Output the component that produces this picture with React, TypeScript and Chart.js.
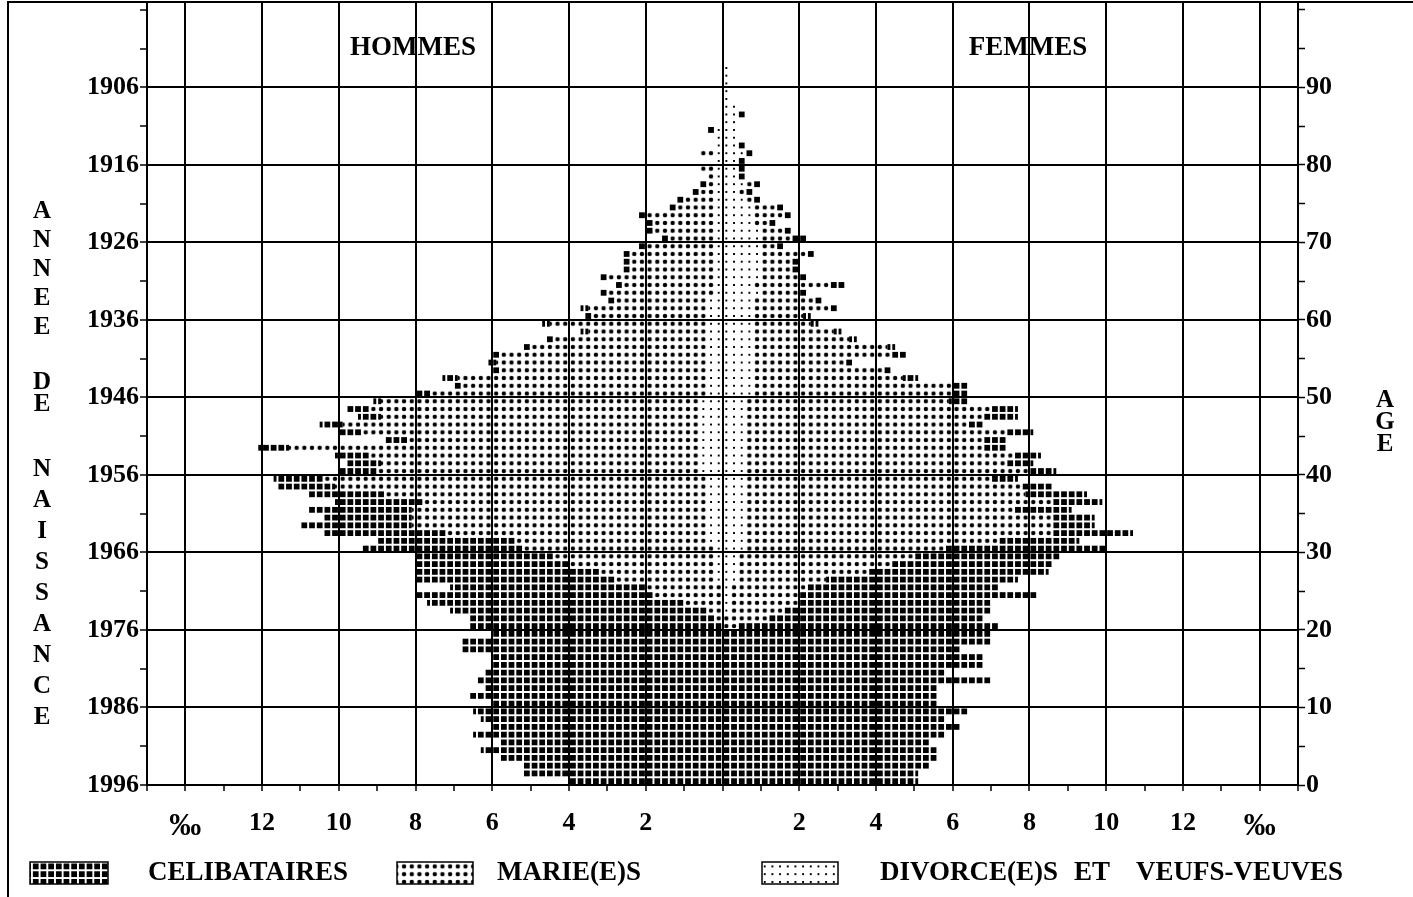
import React, { useEffect, useRef } from 'react';
import { Chart, registerables } from 'chart.js';

Chart.register(...registerables);

// Ages (years completed) – one bar row per age
const AGES = [
  0, 1, 2, 3, 4, 5, 6, 7, 8, 9,
  10, 11, 12, 13, 14, 15, 16, 17, 18, 19,
  20, 21, 22, 23, 24, 25, 26, 27, 28, 29,
  30, 31, 32, 33, 34, 35, 36, 37, 38, 39,
  40, 41, 42, 43, 44, 45, 46, 47, 48, 49,
  50, 51, 52, 53, 54, 55, 56, 57, 58, 59,
  60, 61, 62, 63, 64, 65, 66, 67, 68, 69,
  70, 71, 72, 73, 74, 75, 76, 77, 78, 79,
  80, 81, 82, 83, 84, 85, 86, 87, 88, 89,
  90, 91, 92,
];

// HOMMES (‰)
const HOMMES_CELIBATAIRES = [
  4.0, 5.2, 5.2, 5.8, 6.3, 5.8, 6.5, 6.0, 6.3, 6.5,
  6.0, 6.6, 6.2, 6.4, 6.2, 6.0, 6.0, 6.8, 6.8, 6.0,
  6.6, 6.4, 6.7, 6.7, 6.2, 5.1, 5.2, 4.8, 4.0, 3.6,
  4.2, 3.6, 3.2, 2.9, 2.3, 2.7, 2.3, 2.0, 1.5, 1.3,
  1.0, 0.9, 0.9, 0.8, 0.6, 0.6, 0.6, 0.6, 0.6, 0.2,
  0.4, 0.2, 0.4, 0.2, 0.2, 0.2, 0.2, 0.2, 0.2, 0.2,
  0.2, 0.2, 0.2, 0.2, 0.2, 0.2, 0.2, 0.2, 0.2, 0.2,
  0.2, 0.2, 0.2, 0.2, 0.2, 0.2, 0.2, 0.2, 0, 0,
  0, 0, 0, 0, 0.2, 0, 0, 0, 0, 0,
  0, 0, 0,
];
const HOMMES_MARIES = [
  0, 0, 0, 0, 0, 0, 0, 0, 0, 0,
  0, 0, 0, 0, 0, 0, 0, 0, 0, 0,
  0, 0.2, 0.4, 1.0, 1.8, 2.0, 2.6, 3.0, 3.8, 4.2,
  5.0, 5.0, 6.8, 7.7, 7.7, 7.7, 7.4, 8.4, 9.7, 10.0,
  8.4, 8.3, 8.6, 10.7, 7.6, 8.8, 9.3, 8.3, 8.6, 8.3,
  7.2, 6.4, 6.5, 5.4, 5.5, 5.4, 4.6, 4.0, 3.1, 4.1,
  3.0, 3.1, 2.4, 2.8, 2.4, 2.8, 2.2, 2.2, 2.2, 1.8,
  1.2, 1.6, 1.6, 1.8, 1.0, 0.8, 0.4, 0.2, 0.2, 0.4,
  0, 0.4, 0, 0, 0, 0, 0, 0, 0, 0,
  0, 0, 0,
];
const HOMMES_DIVORCES_VEUFS = [
  0, 0, 0, 0, 0, 0, 0, 0, 0, 0,
  0, 0, 0, 0, 0, 0, 0, 0, 0, 0,
  0, 0, 0, 0, 0, 0, 0.2, 0.2, 0.2, 0.2,
  0.2, 0.4, 0.4, 0.4, 0.4, 0.4, 0.4, 0.4, 0.4, 0.4,
  0.6, 0.6, 0.6, 0.6, 0.6, 0.6, 0.6, 0.6, 0.6, 0.6,
  0.4, 0.4, 0.4, 0.4, 0.4, 0.4, 0.4, 0.4, 0.4, 0.4,
  0.4, 0.4, 0.4, 0.2, 0.2, 0.2, 0.2, 0.2, 0.2, 0.2,
  0.2, 0.2, 0.2, 0.2, 0.2, 0.2, 0.2, 0.2, 0.2, 0.2,
  0.2, 0.2, 0.2, 0.2, 0.2, 0, 0, 0, 0, 0,
  0, 0, 0,
];

// FEMMES (‰)
const FEMMES_CELIBATAIRES = [
  5.1, 5.1, 5.4, 5.6, 5.6, 5.4, 5.8, 6.2, 5.8, 6.4,
  5.6, 5.6, 5.6, 7.0, 5.8, 6.8, 6.8, 6.2, 7.0, 7.0,
  6.8, 5.6, 5.4, 5.0, 6.2, 5.0, 5.0, 4.7, 4.2, 3.8,
  4.2, 2.1, 2.1, 1.1, 1.1, 1.5, 1.3, 1.6, 0.8, 0.7,
  0.7, 0.7, 0.7, 0.6, 0.6, 0.7, 0.4, 0.9, 0.7, 0.5,
  0.4, 0.4, 0.4, 0.2, 0.2, 0.4, 0.2, 0.2, 0.2, 0.2,
  0.2, 0.2, 0.2, 0.2, 0.4, 0.2, 0.2, 0.2, 0.2, 0.2,
  0.4, 0.2, 0.2, 0.2, 0.2, 0.2, 0.2, 0.2, 0.2, 0.2,
  0.2, 0.2, 0.2, 0, 0, 0, 0.2, 0, 0, 0,
  0, 0, 0,
];
const FEMMES_MARIEES = [
  0, 0, 0, 0, 0, 0, 0, 0, 0, 0,
  0, 0, 0, 0, 0, 0, 0, 0, 0, 0,
  0.4, 1.2, 1.4, 1.8, 1.8, 2.0, 2.3, 3.4, 4.0, 4.6,
  5.2, 6.6, 8.0, 8.0, 8.0, 7.0, 8.0, 7.3, 7.2, 6.4,
  7.4, 6.8, 7.0, 6.2, 6.2, 6.8, 5.8, 6.2, 6.4, 5.3,
  5.2, 5.2, 3.9, 3.4, 2.4, 3.6, 3.5, 2.5, 2.1, 1.5,
  1.3, 2.0, 1.6, 1.0, 2.0, 1.0, 0.8, 0.8, 1.2, 0.4,
  0.8, 0.6, 0.4, 0.8, 0.6, 0.2, 0.2, 0.2, 0, 0,
  0, 0, 0, 0, 0, 0, 0, 0, 0, 0,
  0, 0, 0,
];
const FEMMES_DIVORCEES_VEUVES = [
  0, 0, 0, 0, 0, 0, 0, 0, 0, 0,
  0, 0, 0, 0, 0, 0, 0, 0, 0, 0,
  0, 0, 0.2, 0.2, 0.2, 0.2, 0.4, 0.4, 0.4, 0.4,
  0.6, 0.6, 0.6, 0.6, 0.6, 0.6, 0.6, 0.6, 0.6, 0.6,
  0.6, 0.6, 0.6, 0.6, 0.6, 0.6, 0.6, 0.6, 0.6, 0.6,
  0.8, 0.8, 0.8, 0.8, 0.8, 0.8, 0.8, 0.8, 0.8, 0.8,
  0.8, 0.8, 0.8, 1.0, 0.8, 1.0, 1.0, 1.0, 1.0, 1.0,
  1.0, 1.0, 0.8, 0.8, 0.8, 0.6, 0.4, 0.6, 0.4, 0.4,
  0.4, 0.6, 0.4, 0.4, 0.4, 0.4, 0.4, 0.4, 0.2, 0.2,
  0.2, 0.2, 0.2,
];

// Axis tick labels
const YEAR_TICK_LABELS = ['1996', '1986', '1976', '1966', '1956', '1946', '1936', '1926', '1916', '1906'];
const AGE_TICK_LABELS = ['0', '10', '20', '30', '40', '50', '60', '70', '80', '90'];
const X_TICK_VALUES = [-14, -12, -10, -8, -6, -4, -2, 0, 2, 4, 6, 8, 10, 12, 14];
const X_TICK_LABELS = ['‰', '12', '10', '8', '6', '4', '2', '', '2', '4', '6', '8', '10', '12', '‰'];

const LEGEND_LABELS = ['CELIBATAIRES', 'MARIE(E)S', 'DIVORCE(E)S ET VEUFS-VEUVES'];
const LEFT_TITLE_WORDS = ['ANNEE', 'DE', 'NAISSANCE'];
const RIGHT_TITLE = 'AGE';

const FONT = '"Liberation Serif", "Times New Roman", serif';

function makePattern(ctx: CanvasRenderingContext2D, kind: string): CanvasPattern {
  const t = document.createElement('canvas');
  t.width = 8;
  t.height = 8;
  const g = t.getContext('2d')!;
  g.fillStyle = '#000';
  if (kind === 'c') {
    g.fillRect(1, 1, 6, 6);
  } else if (kind === 'm') {
    g.beginPath();
    g.arc(4, 4, 2.3, 0, Math.PI * 2);
    g.fill();
  } else {
    g.fillRect(3, 3, 2, 2);
  }
  return ctx.createPattern(t, 'repeat')!;
}

export default function App() {
  const ref = useRef<HTMLCanvasElement>(null);

  useEffect(() => {
    const canvas = ref.current!;
    const ctx = canvas.getContext('2d')!;
    const pC = makePattern(ctx, 'c');
    const pM = makePattern(ctx, 'm');
    const pD = makePattern(ctx, 'd');
    const patterns = [pC, pM, pD];

    const pts = (arr: number[], sign: number) => arr.map((v, i) => ({ x: sign * v, y: AGES[i] + 0.5 }));
    const ds = (label: string, arr: number[], sign: number, pat: CanvasPattern) => ({
      label,
      data: pts(arr, sign),
      backgroundColor: pat,
      borderWidth: 0,
      stack: 'pyr',
      categoryPercentage: 1,
      barPercentage: 1,
      inflateAmount: 0,
    });

    const alignPlugin = {
      id: 'alignPatterns',
      beforeDatasetsDraw(chart: any) {
        const xs = chart.scales.x;
        const ys = chart.scales.y;
        const x0 = xs.getPixelForValue(0);
        const cw = xs.getPixelForValue(0.2) - x0;
        const y0 = ys.getPixelForValue(0);
        const rh = y0 - ys.getPixelForValue(1);
        for (const p of patterns) {
          p.setTransform(new DOMMatrix([cw / 8, 0, 0, rh / 8, x0, y0]));
        }
      },
    };

    const decorPlugin = {
      id: 'decor',
      afterDraw(chart: any) {
        const c = chart.ctx as CanvasRenderingContext2D;
        const a = chart.chartArea;
        c.save();
        // outer frame and plot top border
        c.strokeStyle = '#000';
        c.lineWidth = 2;
        c.beginPath();
        c.moveTo(8, 897);
        c.lineTo(8, a.top);
        c.lineTo(1413, a.top);
        c.stroke();

        c.fillStyle = '#000';
        c.textBaseline = 'middle';
        c.font = `bold 27px ${FONT}`;
        c.textAlign = 'center';
        c.fillText('HOMMES', 413, 48);
        c.fillText('FEMMES', 1028, 48);

        // vertical stacked titles
        c.font = `bold 25px ${FONT}`;
        const leftYs = [
          [212, 241, 270, 299, 328],
          [383, 405],
          [470, 501, 532, 563, 594, 625, 656, 687, 718],
        ];
        LEFT_TITLE_WORDS.forEach((w, wi) => {
          w.split('').forEach((ch, ci) => c.fillText(ch, 42, leftYs[wi][ci]));
        });
        RIGHT_TITLE.split('').forEach((ch, ci) => c.fillText(ch, 1385, 401 + ci * 22));

        // legend
        const sw = [
          [30, 862, 78, 22, pC],
          [397, 862, 76, 22, pM],
          [762, 862, 76, 22, pD],
        ];
        sw.forEach((s: any) => {
          const [x, y, w, h, p] = s;
          c.save();
          c.fillStyle = p;
          c.fillRect(x, y, w, h);
          c.restore();
          c.lineWidth = 1.5;
          c.strokeRect(x, y, w, h);
        });
        c.font = `bold 27px ${FONT}`;
        c.textAlign = 'left';
        c.fillText(LEGEND_LABELS[0], 148, 873);
        c.fillText(LEGEND_LABELS[1], 497, 873);
        // third label: words spread as in the original print
        const words = LEGEND_LABELS[2].split(' ');
        c.fillText(words[0], 880, 873);
        c.fillText(words[1], 1074, 873);
        c.textAlign = 'right';
        c.fillText(words[2], 1343, 873);
        c.restore();
      },
    };

    const tickFont = { family: FONT, size: 26, weight: 'bold' as const };
    const yTicks = (scale: any) => {
      const t: any[] = [];
      for (let v = 0; v <= 100; v += 5) t.push({ value: v });
      scale.ticks = t;
    };

    const chart = new Chart(canvas, {
      type: 'bar',
      data: {
        datasets: [
          ds('HOMMES DIVORCE(E)S ET VEUFS-VEUVES', HOMMES_DIVORCES_VEUFS, -1, pD),
          ds('HOMMES MARIE(E)S', HOMMES_MARIES, -1, pM),
          ds('HOMMES CELIBATAIRES', HOMMES_CELIBATAIRES, -1, pC),
          ds('FEMMES DIVORCE(E)S ET VEUFS-VEUVES', FEMMES_DIVORCEES_VEUVES, 1, pD),
          ds('FEMMES MARIE(E)S', FEMMES_MARIEES, 1, pM),
          ds('FEMMES CELIBATAIRES', FEMMES_CELIBATAIRES, 1, pC),
        ] as any,
      },
      options: {
        indexAxis: 'y',
        responsive: false,
        animation: false,
        events: [],
        layout: { padding: { top: 2, left: 0, right: 0, bottom: 0 }, autoPadding: false },
        plugins: { legend: { display: false }, tooltip: { enabled: false }, title: { display: false } },
        scales: {
          x: {
            type: 'linear',
            min: -15,
            max: 15,
            stacked: true,
            offset: false,
            position: 'bottom',
            afterBuildTicks: (scale: any) => {
              const t: any[] = [];
              for (let v = -15; v <= 15; v += 1) t.push({ value: v });
              scale.ticks = t;
            },
            afterFit: (scale: any) => {
              scale.height = 112;
              scale.paddingLeft = 0;
              scale.paddingRight = 0;
            },
            border: { display: true, color: '#000', width: 2 },
            grid: {
              display: true,
              offset: false,
              drawOnChartArea: true,
              drawTicks: true,
              tickLength: 6,
              tickColor: '#000',
              tickWidth: 1.5,
              lineWidth: 2,
              color: (ctx: any) => {
                const v = ctx.tick ? ctx.tick.value : 1;
                return Math.abs(v) < 15 && v % 2 === 0 ? '#000' : 'rgba(0,0,0,0)';
              },
            },
            ticks: {
              autoSkip: false,
              maxRotation: 0,
              padding: 17,
              color: '#000',
              font: (ctx: any) => {
                const v = ctx.tick ? Math.abs(ctx.tick.value) : 0;
                return { family: FONT, size: v === 14 ? 32 : 26, weight: 'bold' };
              },
              callback: (value: any) => {
                const i = X_TICK_VALUES.indexOf(Number(value));
                return i >= 0 ? X_TICK_LABELS[i] : '';
              },
            },
          },
          y: {
            type: 'linear',
            min: 0,
            max: 101,
            stacked: true,
            offset: false,
            position: 'left',
            afterBuildTicks: yTicks,
            afterFit: (scale: any) => {
              scale.width = 147;
              scale.paddingTop = 0;
              scale.paddingBottom = 0;
            },
            border: { display: true, color: '#000', width: 2 },
            grid: {
              display: true,
              offset: false,
              drawOnChartArea: true,
              drawTicks: true,
              tickLength: 7,
              tickColor: '#000',
              tickWidth: 1.5,
              lineWidth: 2,
              color: (ctx: any) => {
                const v = ctx.tick ? ctx.tick.value : 1;
                return v > 0 && v <= 90 && v % 10 === 0 ? '#000' : 'rgba(0,0,0,0)';
              },
            },
            ticks: {
              autoSkip: false,
              padding: 1,
              color: '#000',
              font: tickFont,
              callback: (value: any) => {
                const v = Number(value);
                return v % 10 === 0 && v <= 90 ? YEAR_TICK_LABELS[v / 10] : '';
              },
            },
          },
          y2: {
            type: 'linear',
            min: 0,
            max: 101,
            offset: false,
            display: true,
            position: 'right',
            afterBuildTicks: yTicks,
            afterFit: (scale: any) => {
              scale.width = 115;
              scale.paddingTop = 0;
              scale.paddingBottom = 0;
            },
            border: { display: true, color: '#000', width: 2 },
            grid: {
              display: true,
              offset: false,
              drawOnChartArea: false,
              drawTicks: true,
              tickLength: 7,
              tickColor: '#000',
              tickWidth: 1.5,
            },
            ticks: {
              autoSkip: false,
              padding: 1,
              color: '#000',
              font: tickFont,
              callback: (value: any) => {
                const v = Number(value);
                return v % 10 === 0 && v <= 90 ? AGE_TICK_LABELS[v / 10] : '';
              },
            },
          },
        },
      } as any,
      plugins: [alignPlugin, decorPlugin],
    });

    return () => chart.destroy();
  }, []);

  return (
    <div style={{ position: 'fixed', left: 0, top: 0, width: 1413, height: 897, background: '#fff' }}>
      <canvas ref={ref} width={1413} height={897} style={{ display: 'block', width: 1413, height: 897 }} />
    </div>
  );
}
